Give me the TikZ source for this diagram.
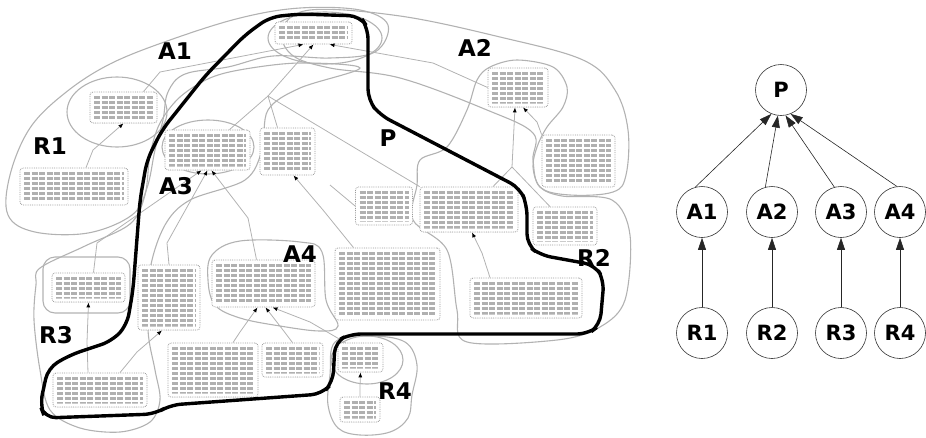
\documentclass[tikz,border=0pt]{standalone}
\usepackage{fontspec}
\setmainfont{DejaVu Sans}
\usetikzlibrary{arrows.meta}
\begin{document}
\begin{tikzpicture}[x=1pt,y=-1pt,
  lbl/.style={font=\bfseries\fontsize{23}{23}\selectfont, inner sep=0pt},
  tbox/.style={draw=gray!80, densely dotted, line width=0.8pt, rounded corners=3pt,
    fill=white, inner sep=0pt,
    path picture={
      \foreach \k in {0,...,14} {
        \draw[gray!62, line width=2.5pt, dash pattern=on 6pt off 1.5pt]
          ([shift={(4pt,{-5.5pt-\k*5pt})}]path picture bounding box.north west) --
          ([shift={(-4pt,{-5.5pt-\k*5pt})}]path picture bounding box.north east);}
      \draw[white, line width=7pt, solid] (path picture bounding box.south west) rectangle (path picture bounding box.north east);}},
  outl/.style={draw=gray!60, line width=1.1pt},
  cline/.style={draw=gray!60, line width=0.8pt},
  conn/.style={draw=gray!60, line width=0.8pt, -{Latex[length=5pt,width=4pt,fill=black,color=black]}},
  circ/.style={circle, draw=black!80, line width=0.6pt, minimum size=51pt, inner sep=0pt,
    font=\bfseries\fontsize{21}{21}\selectfont},
  bigarr/.style={draw=black!85, line width=0.6pt, -{Triangle[length=12pt,width=8pt]}}
]
\useasboundingbox (0,0) rectangle (926,437);

% ---------- region outlines ----------
% R1 region
\draw[outl] plot[smooth cycle, tension=0.6] coordinates {(8,215) (10,175) (30,128) (65,93) (110,64) (170,40) (240,18) (300,8) (360,10) (388,25) (375,52) (330,58) (273,56) (228,67) (185,74) (168,92) (163,120) (155,150) (147,188) (132,215) (88,233) (35,232)};
% A2 region
\draw[outl] plot[smooth cycle, tension=0.6] coordinates {(282,30) (310,10) (400,16) (500,37) (583,60) (615,90) (628,130) (626,175) (613,192) (570,195) (540,187) (533,160) (533,133) (487,110) (400,78) (330,68) (292,55)};
% R3 region
\draw[outl] plot[smooth cycle, tension=0.55] coordinates {(40,268) (85,246) (130,224) (145,195) (150,155) (160,123) (180,97) (210,78) (245,69) (300,63) (360,68) (300,88) (268,110) (262,150) (245,180) (190,200) (165,225) (150,270) (148,330) (155,370) (160,400) (150,422) (120,432) (80,428) (50,410) (40,370) (34,320) (36,285)};
% R2 region
\draw[outl] plot[smooth cycle, tension=0.55] coordinates {(533,167) (540,187) (562,196) (612,200) (630,235) (625,300) (600,327) (557,340) (467,342) (457,310) (447,250) (413,220) (417,185) (420,160) (447,147) (467,110) (477,80) (490,67) (517,60) (553,67) (567,87) (563,107) (547,127) (537,147)};
% A4 region
\draw[outl] plot[smooth cycle, tension=0.6] coordinates {(212,255) (240,241) (300,242) (322,252) (326,300) (338,326) (320,331) (280,326) (240,318) (215,305) (208,280)};
% R4 region
\draw[outl] plot[smooth cycle, tension=0.6] coordinates {(335,342) (370,336) (405,342) (417,365) (412,395) (408,418) (390,432) (360,435) (338,428) (328,405) (330,375)};
\draw[outl] (367,360) ellipse [x radius=36, y radius=24];
% ellipses
\draw[outl] (325,38) ellipse [x radius=57, y radius=26];
\draw[outl] (117,112) ellipse [x radius=50, y radius=35];
\draw[outl] (208,147) ellipse [x radius=46, y radius=27];
\draw[outl, rounded corners=12pt] (43,257) rectangle (130,313);

% ---------- boxes ----------
\node[tbox, minimum width=77pt, minimum height=22pt] (btop) at (313.5,33) {};
\node[tbox, minimum width=67pt, minimum height=31pt] (ba1) at (123.5,107.5) {};
\node[tbox, minimum width=108pt, minimum height=37pt] (br1) at (74,186.5) {};
\node[tbox, minimum width=85pt, minimum height=40pt] (ba3) at (207.5,150) {};
\node[tbox, minimum width=55pt, minimum height=47pt] (bm1) at (287.5,151.5) {};
\node[tbox, minimum width=60pt, minimum height=39pt] (ba2) at (518,87.5) {};
\node[tbox, minimum width=73pt, minimum height=52pt] (brt) at (578.5,161) {};
\node[tbox, minimum width=57pt, minimum height=38pt] (bm2) at (384,206) {};
\node[tbox, minimum width=98pt, minimum height=45pt] (bm3) at (469,209.5) {};
\node[tbox, minimum width=64pt, minimum height=38pt] (bm4) at (565,226) {};
\node[tbox, minimum width=73pt, minimum height=29pt] (br3) at (88.5,287.5) {};
\node[tbox, minimum width=62pt, minimum height=65pt] (bm5) at (169,297.5) {};
\node[tbox, minimum width=103pt, minimum height=47pt] (ba4) at (263.5,283.5) {};
\node[tbox, minimum width=94pt, minimum height=34pt] (bbl) at (100,390) {};
\node[tbox, minimum width=90pt, minimum height=54pt] (bm6) at (213,370) {};
\node[tbox, minimum width=61pt, minimum height=34pt] (bm7) at (292.5,360) {};
\node[tbox, minimum width=105pt, minimum height=72pt] (bbig) at (387.5,284) {};
\node[tbox, minimum width=112pt, minimum height=40pt] (br2) at (526,298) {};
\node[tbox, minimum width=45pt, minimum height=29pt] (br4) at (360.5,357.5) {};
\node[tbox, minimum width=40pt, minimum height=25pt] (bbot) at (360,409.5) {};

% ---------- connectors ----------
\coordinate (w1) at (93,150);
\coordinate (w2) at (160,72);
\coordinate (w3) at (268,96);
\coordinate (w4) at (433,63);
\coordinate (w5) at (537,122);
\coordinate (w6) at (512,167);
\coordinate (w7) at (482,253);
\coordinate (w8) at (330,185);
\coordinate (w9) at (323,210);
\coordinate (w10) at (97,243);
\coordinate (w11) at (167,243);
\coordinate (w12) at (248,218);
\coordinate (w13) at (87,342);
\coordinate (w14) at (137,352);
\coordinate (w15) at (240,332);
\coordinate (w16) at (283,330);
\coordinate (w17) at (310,322);
\coordinate (w18) at (360,387);

\draw[conn] ([xshift=12pt]br1.north) -- (w1) -- (ba1.south);
\draw[conn] ([xshift=20pt]ba1.north) -- (w2) -- ([xshift=-10pt]btop.south);
\draw[cline] ([xshift=22pt]ba3.north) -- (w3);
\draw[cline] ([xshift=-10pt]bm1.north) -- (w3);
\draw[cline] (bm3.north west) -- (w3);
\draw[conn] (w3) -- (btop.south);
\draw[conn] (ba2.west) -- (w4) -- ([xshift=16pt]btop.south);
\draw[conn] (brt.north west) -- (w5) -- ([xshift=5pt]ba2.south);
\draw[cline] ([xshift=24pt]bm3.north) -- (w6);
\draw[conn] ([xshift=-15pt]bm4.north) -- (w6) -- ([xshift=-3pt]ba2.south);
\draw[conn] ([xshift=-36pt]br2.north) -- (w7) -- ([xshift=3pt]bm3.south);
\draw[cline] (bm2.west) -- (w8);
\draw[conn] ([xshift=-34pt]bbig.north) -- (w9) -- ([xshift=6pt]bm1.south);
\draw[conn] ([xshift=5pt]br3.north) -- (w10) -- ([xshift=-6pt]ba3.south);
\draw[conn] (bm5.north) -- (w11) -- (ba3.south);
\draw[conn] ([xshift=-7pt]ba4.north) -- (w12) -- ([xshift=4pt]ba3.south);
\draw[conn] ([xshift=-12pt]bbl.north) -- (w13) -- (br3.south);
\draw[conn] ([xshift=20pt]bbl.north) -- (w14) -- ([xshift=-7pt]bm5.south);
\draw[conn] ([xshift=20pt]bm6.north) -- (w15) -- ([xshift=-6pt]ba4.south);
\draw[conn] (bm7.north) -- (w16) -- ([xshift=2pt]ba4.south);
\draw[conn] ([xshift=-15pt]br4.north) -- (w17) -- ([xshift=9pt]ba4.south);
\draw[conn] (bbot.north) -- (w18) -- (br4.south);

% ---------- thick P contour ----------
\draw[black, line width=3.4pt, rounded corners=11pt]
  (300,14) -- (360,16) -- (368,28) -- (368,100) -- (380,115) -- (520,188) -- (527,205)
  -- (527,245) -- (540,255) -- (595,265) -- (604,280) -- (600,325) -- (588,334)
  -- (350,334) -- (335,342) -- (333,382) -- (322,394) -- (170,405) -- (155,414)
  -- (45,418) -- (40,405) -- (48,368) -- (70,355) -- (112,341) -- (127,325)
  -- (133,290) -- (140,200) -- (147,160) -- (162,130) -- (205,76) -- (245,35) -- (270,17) -- cycle;

% ---------- region labels ----------
\node[lbl] (lA1) at (175,51) {A1};
\node[lbl] (lA2) at (475,48) {A2};
\node[lbl] (lR1) at (50,146) {R1};
\node[lbl] (lA3) at (176,186) {A3};
\node[lbl] (lP)  at (388,138) {P};
\node[lbl] (lA4) at (300,254) {A4};
\node[lbl] (lR3) at (56,335) {R3};
\node[lbl] (lR2) at (594,258) {R2};
\node[lbl] (lR4) at (395,391) {R4};

% ---------- right graph ----------
\node[circ] (P)  at (781,90) {P};
\node[circ] (A1) at (702,212) {A1};
\node[circ] (A2) at (772,212) {A2};
\node[circ] (A3) at (841,212) {A3};
\node[circ] (A4) at (900,212) {A4};
\node[circ] (R1) at (702,333) {R1};
\node[circ] (R2) at (772,333) {R2};
\node[circ] (R3) at (841,333) {R3};
\node[circ] (R4) at (900,333) {R4};
\draw[bigarr] (A1.105) -- (P.-112);
\draw[bigarr] (A2.105) -- (P.-97);
\draw[bigarr] (A3.105) -- (P.-80);
\draw[bigarr] (A4.97) -- (P.-68);
\draw[bigarr] (R1) -- (A1);
\draw[bigarr] (R2) -- (A2);
\draw[bigarr] (R3) -- (A3);
\draw[bigarr] (R4) -- (A4);
\end{tikzpicture}
\end{document}
